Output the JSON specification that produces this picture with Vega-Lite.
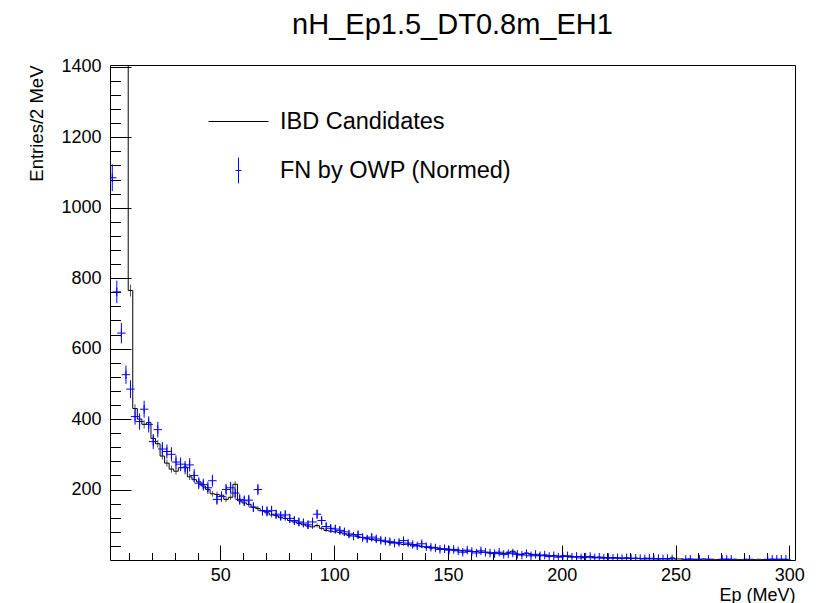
{
 "$schema": "https://vega.github.io/schema/vega-lite/v6.json",
 "width": 685, "height": 495,
 "autosize": {"type": "none"},
 "padding": {"left": 110, "top": 65, "right": 31, "bottom": 43},
 "background": "white",
 "config": {"font": "Liberation Sans", "view": {"stroke": "black", "strokeWidth": 1}},
 "title": {"text": "nH_Ep1.5_DT0.8m_EH1", "fontSize": 29, "fontWeight": "normal", "font": "Liberation Sans", "anchor": "middle", "offset": 18, "color": "black"},
 "data": {"values": [
  {"lo":1.5,"c":2.5,"ibd":3000,"ie":33,"fn":1085,"fe":38},
  {"lo":3.5,"c":4.5,"ibd":2400,"ie":29,"fn":761,"fe":32},
  {"lo":5.5,"c":6.5,"ibd":1900,"ie":26,"fn":644,"fe":29},
  {"lo":7.5,"c":8.5,"ibd":1500,"ie":23,"fn":526,"fe":26},
  {"lo":9.5,"c":10.5,"ibd":765,"ie":17,"fn":485,"fe":25},
  {"lo":11.5,"c":12.5,"ibd":430,"ie":12,"fn":407,"fe":23},
  {"lo":13.5,"c":14.5,"ibd":400,"ie":12,"fn":393,"fe":23},
  {"lo":15.5,"c":16.5,"ibd":385,"ie":12,"fn":428,"fe":24},
  {"lo":17.5,"c":18.5,"ibd":390,"ie":12,"fn":385,"fe":23},
  {"lo":19.5,"c":20.5,"ibd":345,"ie":11,"fn":336,"fe":21},
  {"lo":21.5,"c":22.5,"ibd":330,"ie":11,"fn":370,"fe":22},
  {"lo":23.5,"c":24.5,"ibd":295,"ie":10,"fn":315,"fe":20},
  {"lo":25.5,"c":26.5,"ibd":275,"ie":10,"fn":308,"fe":20},
  {"lo":27.5,"c":28.5,"ibd":258,"ie":10,"fn":300,"fe":20},
  {"lo":29.5,"c":30.5,"ibd":252,"ie":10,"fn":278,"fe":19},
  {"lo":31.5,"c":32.5,"ibd":262,"ie":10,"fn":272,"fe":19},
  {"lo":33.5,"c":34.5,"ibd":264,"ie":10,"fn":262,"fe":19},
  {"lo":35.5,"c":36.5,"ibd":236,"ie":9,"fn":270,"fe":19},
  {"lo":37.5,"c":38.5,"ibd":228,"ie":9,"fn":240,"fe":18},
  {"lo":39.5,"c":40.5,"ibd":222,"ie":9,"fn":218,"fe":17},
  {"lo":41.5,"c":42.5,"ibd":210,"ie":9,"fn":214,"fe":17},
  {"lo":43.5,"c":44.5,"ibd":200,"ie":8,"fn":205,"fe":17},
  {"lo":45.5,"c":46.5,"ibd":188,"ie":8,"fn":225,"fe":17},
  {"lo":47.5,"c":48.5,"ibd":186,"ie":8,"fn":172,"fe":15},
  {"lo":49.5,"c":50.5,"ibd":184,"ie":8,"fn":180,"fe":15},
  {"lo":51.5,"c":52.5,"ibd":172,"ie":8,"fn":200,"fe":16},
  {"lo":53.5,"c":54.5,"ibd":178,"ie":8,"fn":205,"fe":17},
  {"lo":55.5,"c":56.5,"ibd":215,"ie":9,"fn":190,"fe":16},
  {"lo":57.5,"c":58.5,"ibd":168,"ie":8,"fn":172,"fe":15},
  {"lo":59.5,"c":60.5,"ibd":162,"ie":8,"fn":168,"fe":15},
  {"lo":61.5,"c":62.5,"ibd":158,"ie":8,"fn":170,"fe":15},
  {"lo":63.5,"c":64.5,"ibd":150,"ie":7,"fn":150,"fe":14},
  {"lo":65.5,"c":66.5,"ibd":146,"ie":7,"fn":200,"fe":16},
  {"lo":67.5,"c":68.5,"ibd":140,"ie":7,"fn":140,"fe":14},
  {"lo":69.5,"c":70.5,"ibd":134,"ie":7,"fn":138,"fe":14},
  {"lo":71.5,"c":72.5,"ibd":128,"ie":7,"fn":140,"fe":14},
  {"lo":73.5,"c":74.5,"ibd":126,"ie":7,"fn":130,"fe":13},
  {"lo":75.5,"c":76.5,"ibd":120,"ie":7,"fn":125,"fe":13},
  {"lo":77.5,"c":78.5,"ibd":118,"ie":7,"fn":128,"fe":13},
  {"lo":79.5,"c":80.5,"ibd":112,"ie":6,"fn":118,"fe":13},
  {"lo":81.5,"c":82.5,"ibd":108,"ie":6,"fn":112,"fe":12},
  {"lo":83.5,"c":84.5,"ibd":104,"ie":6,"fn":108,"fe":12},
  {"lo":85.5,"c":86.5,"ibd":100,"ie":6,"fn":105,"fe":12},
  {"lo":87.5,"c":88.5,"ibd":96,"ie":6,"fn":100,"fe":12},
  {"lo":89.5,"c":90.5,"ibd":94,"ie":6,"fn":108,"fe":12},
  {"lo":91.5,"c":92.5,"ibd":98,"ie":6,"fn":130,"fe":13},
  {"lo":93.5,"c":94.5,"ibd":90,"ie":6,"fn":112,"fe":12},
  {"lo":95.5,"c":96.5,"ibd":84,"ie":5,"fn":95,"fe":11},
  {"lo":97.5,"c":98.5,"ibd":82,"ie":5,"fn":90,"fe":11},
  {"lo":99.5,"c":100.5,"ibd":80,"ie":5,"fn":88,"fe":11},
  {"lo":101.5,"c":102.5,"ibd":78,"ie":5,"fn":84,"fe":11},
  {"lo":103.5,"c":104.5,"ibd":74,"ie":5,"fn":80,"fe":10},
  {"lo":105.5,"c":106.5,"ibd":70,"ie":5,"fn":74,"fe":10},
  {"lo":107.5,"c":108.5,"ibd":72,"ie":5,"fn":68,"fe":10},
  {"lo":109.5,"c":110.5,"ibd":66,"ie":5,"fn":72,"fe":10},
  {"lo":111.5,"c":112.5,"ibd":64,"ie":5,"fn":64,"fe":9},
  {"lo":113.5,"c":114.5,"ibd":62,"ie":5,"fn":60,"fe":9},
  {"lo":115.5,"c":116.5,"ibd":58,"ie":5,"fn":65,"fe":9},
  {"lo":117.5,"c":118.5,"ibd":56,"ie":4,"fn":60,"fe":9},
  {"lo":119.5,"c":120.5,"ibd":55,"ie":4,"fn":56,"fe":9},
  {"lo":121.5,"c":122.5,"ibd":52,"ie":4,"fn":54,"fe":8},
  {"lo":123.5,"c":124.5,"ibd":50,"ie":4,"fn":52,"fe":8},
  {"lo":125.5,"c":126.5,"ibd":50,"ie":4,"fn":48,"fe":8},
  {"lo":127.5,"c":128.5,"ibd":46,"ie":4,"fn":50,"fe":8},
  {"lo":129.5,"c":130.5,"ibd":44,"ie":4,"fn":55,"fe":9},
  {"lo":131.5,"c":132.5,"ibd":45,"ie":4,"fn":48,"fe":8},
  {"lo":133.5,"c":134.5,"ibd":40,"ie":4,"fn":44,"fe":8},
  {"lo":135.5,"c":136.5,"ibd":42,"ie":4,"fn":40,"fe":7},
  {"lo":137.5,"c":138.5,"ibd":38,"ie":4,"fn":46,"fe":8},
  {"lo":139.5,"c":140.5,"ibd":36,"ie":4,"fn":38,"fe":7},
  {"lo":141.5,"c":142.5,"ibd":34,"ie":4,"fn":36,"fe":7},
  {"lo":143.5,"c":144.5,"ibd":35,"ie":4,"fn":34,"fe":7},
  {"lo":145.5,"c":146.5,"ibd":32,"ie":3,"fn":30,"fe":6},
  {"lo":147.5,"c":148.5,"ibd":30,"ie":3,"fn":32,"fe":7},
  {"lo":149.5,"c":150.5,"ibd":30,"ie":3,"fn":28,"fe":6},
  {"lo":151.5,"c":152.5,"ibd":28,"ie":3,"fn":30,"fe":6},
  {"lo":153.5,"c":154.5,"ibd":28,"ie":3,"fn":26,"fe":6},
  {"lo":155.5,"c":156.5,"ibd":26,"ie":3,"fn":22,"fe":5},
  {"lo":157.5,"c":158.5,"ibd":25,"ie":3,"fn":28,"fe":6},
  {"lo":159.5,"c":160.5,"ibd":24,"ie":3,"fn":24,"fe":6},
  {"lo":161.5,"c":162.5,"ibd":24,"ie":3,"fn":20,"fe":5},
  {"lo":163.5,"c":164.5,"ibd":22,"ie":3,"fn":26,"fe":6},
  {"lo":165.5,"c":166.5,"ibd":22,"ie":3,"fn":22,"fe":5},
  {"lo":167.5,"c":168.5,"ibd":20,"ie":3,"fn":20,"fe":5},
  {"lo":169.5,"c":170.5,"ibd":21,"ie":3,"fn":18,"fe":5},
  {"lo":171.5,"c":172.5,"ibd":19,"ie":3,"fn":22,"fe":5},
  {"lo":173.5,"c":174.5,"ibd":18,"ie":3,"fn":16,"fe":5},
  {"lo":175.5,"c":176.5,"ibd":22,"ie":3,"fn":18,"fe":5},
  {"lo":177.5,"c":178.5,"ibd":25,"ie":3,"fn":20,"fe":5},
  {"lo":179.5,"c":180.5,"ibd":17,"ie":2,"fn":16,"fe":5},
  {"lo":181.5,"c":182.5,"ibd":16,"ie":2,"fn":14,"fe":4},
  {"lo":183.5,"c":184.5,"ibd":20,"ie":3,"fn":18,"fe":5},
  {"lo":185.5,"c":186.5,"ibd":16,"ie":2,"fn":12,"fe":4},
  {"lo":187.5,"c":188.5,"ibd":14,"ie":2,"fn":16,"fe":5},
  {"lo":189.5,"c":190.5,"ibd":13,"ie":2,"fn":12,"fe":4},
  {"lo":191.5,"c":192.5,"ibd":14,"ie":2,"fn":14,"fe":4},
  {"lo":193.5,"c":194.5,"ibd":12,"ie":2,"fn":10,"fe":4},
  {"lo":195.5,"c":196.5,"ibd":12,"ie":2,"fn":12,"fe":4},
  {"lo":197.5,"c":198.5,"ibd":11,"ie":2,"fn":8,"fe":3},
  {"lo":199.5,"c":200.5,"ibd":12,"ie":2,"fn":10,"fe":4},
  {"lo":201.5,"c":202.5,"ibd":10,"ie":2,"fn":12,"fe":4},
  {"lo":203.5,"c":204.5,"ibd":10,"ie":2,"fn":8,"fe":3},
  {"lo":205.5,"c":206.5,"ibd":9,"ie":2,"fn":10,"fe":4},
  {"lo":207.5,"c":208.5,"ibd":10,"ie":2,"fn":6,"fe":3},
  {"lo":209.5,"c":210.5,"ibd":8,"ie":2,"fn":8,"fe":3},
  {"lo":211.5,"c":212.5,"ibd":9,"ie":2,"fn":10,"fe":4},
  {"lo":213.5,"c":214.5,"ibd":7,"ie":2,"fn":6,"fe":3},
  {"lo":215.5,"c":216.5,"ibd":8,"ie":2,"fn":8,"fe":3},
  {"lo":217.5,"c":218.5,"ibd":7,"ie":2,"fn":5,"fe":3},
  {"lo":219.5,"c":220.5,"ibd":6,"ie":1,"fn":7,"fe":3},
  {"lo":221.5,"c":222.5,"ibd":7,"ie":2,"fn":5,"fe":3},
  {"lo":223.5,"c":224.5,"ibd":6,"ie":1,"fn":6,"fe":3},
  {"lo":225.5,"c":226.5,"ibd":5,"ie":1,"fn":4,"fe":2},
  {"lo":227.5,"c":228.5,"ibd":6,"ie":1,"fn":6,"fe":3},
  {"lo":229.5,"c":230.5,"ibd":5,"ie":1,"fn":4,"fe":2},
  {"lo":231.5,"c":232.5,"ibd":5,"ie":1,"fn":5,"fe":3},
  {"lo":233.5,"c":234.5,"ibd":4,"ie":1,"fn":4,"fe":2},
  {"lo":235.5,"c":236.5,"ibd":5,"ie":1,"fn":3,"fe":2},
  {"lo":237.5,"c":238.5,"ibd":4,"ie":1,"fn":5,"fe":3},
  {"lo":239.5,"c":240.5,"ibd":4,"ie":1,"fn":3,"fe":2},
  {"lo":241.5,"c":242.5,"ibd":3,"ie":1,"fn":4,"fe":2},
  {"lo":243.5,"c":244.5,"ibd":4,"ie":1,"fn":3,"fe":2},
  {"lo":245.5,"c":246.5,"ibd":3,"ie":1,"fn":4,"fe":2},
  {"lo":247.5,"c":248.5,"ibd":6,"ie":1,"fn":3,"fe":2},
  {"lo":249.5,"c":250.5,"ibd":3,"ie":1,"fn":null,"fe":null},
  {"lo":251.5,"c":252.5,"ibd":3,"ie":1,"fn":null,"fe":null},
  {"lo":253.5,"c":254.5,"ibd":2,"ie":1,"fn":2,"fe":2},
  {"lo":255.5,"c":256.5,"ibd":3,"ie":1,"fn":2,"fe":2},
  {"lo":257.5,"c":258.5,"ibd":2,"ie":1,"fn":null,"fe":null},
  {"lo":259.5,"c":260.5,"ibd":2,"ie":1,"fn":2,"fe":2},
  {"lo":261.5,"c":262.5,"ibd":3,"ie":1,"fn":null,"fe":null},
  {"lo":263.5,"c":264.5,"ibd":2,"ie":1,"fn":2,"fe":2},
  {"lo":265.5,"c":266.5,"ibd":2,"ie":1,"fn":null,"fe":null},
  {"lo":267.5,"c":268.5,"ibd":1,"ie":1,"fn":null,"fe":null},
  {"lo":269.5,"c":270.5,"ibd":2,"ie":1,"fn":2,"fe":2},
  {"lo":271.5,"c":272.5,"ibd":2,"ie":1,"fn":2,"fe":2},
  {"lo":273.5,"c":274.5,"ibd":1,"ie":1,"fn":2,"fe":2},
  {"lo":275.5,"c":276.5,"ibd":2,"ie":1,"fn":null,"fe":null},
  {"lo":277.5,"c":278.5,"ibd":1,"ie":1,"fn":null,"fe":null},
  {"lo":279.5,"c":280.5,"ibd":2,"ie":1,"fn":null,"fe":null},
  {"lo":281.5,"c":282.5,"ibd":1,"ie":1,"fn":2,"fe":2},
  {"lo":283.5,"c":284.5,"ibd":1,"ie":1,"fn":null,"fe":null},
  {"lo":285.5,"c":286.5,"ibd":2,"ie":1,"fn":null,"fe":null},
  {"lo":287.5,"c":288.5,"ibd":1,"ie":1,"fn":null,"fe":null},
  {"lo":289.5,"c":290.5,"ibd":1,"ie":1,"fn":2,"fe":2},
  {"lo":291.5,"c":292.5,"ibd":2,"ie":1,"fn":2,"fe":2},
  {"lo":293.5,"c":294.5,"ibd":1,"ie":1,"fn":2,"fe":2},
  {"lo":295.5,"c":296.5,"ibd":1,"ie":1,"fn":2,"fe":2},
  {"lo":297.5,"c":298.5,"ibd":1,"ie":1,"fn":2,"fe":2},
  {"lo":299.5,"c":300.5,"ibd":1,"ie":1,"fn":null,"fe":null}
 ]},
 "layer": [
  {
   "mark": {"type": "errorbar", "color": "#555555", "thickness": 1, "clip": true},
   "encoding": {
    "x": {"field": "c", "type": "quantitative", "scale": {"domain": [1.5, 302.5], "nice": false, "zero": false}, "axis": null},
    "y": {"field": "ibd", "type": "quantitative", "scale": {"domain": [0, 1405], "nice": false}, "axis": null},
    "yError": {"field": "ie"}
   }
  },
  {
   "mark": {"type": "line", "interpolate": "step-after", "strokeWidth": 1, "clip": true},
   "encoding": {
    "x": {"field": "lo", "type": "quantitative", "axis": {"values": [50, 100, 150, 200, 250, 300], "orient": "bottom", "tickSize": -15, "tickColor": "black", "domain": false, "grid": false, "labelFontSize": 18, "labelColor": "black", "labelPadding": 21, "labelFlush": false, "labelOverlap": false, "labelBound": false, "format": "d", "title": "Ep (MeV)", "titleFontSize": 18, "titleFontWeight": "normal", "titleColor": "black", "titleAlign": "right", "titleAnchor": "end", "titleX": 685, "titleY": 35, "titleBaseline": "middle"}},
    "y": {"field": "ibd", "type": "quantitative", "axis": {"values": [200, 400, 600, 800, 1000, 1200, 1400], "orient": "left", "tickSize": -21, "tickColor": "black", "domain": false, "grid": false, "labelFontSize": 18, "labelColor": "black", "labelPadding": 30, "labelFlush": false, "labelOverlap": false, "labelBound": false, "format": "d", "title": "Entries/2 MeV", "titleFontSize": 18.5, "titleFontWeight": "normal", "titleColor": "black", "titleAngle": -90, "titleAlign": "right", "titleBaseline": "middle", "titleX": -74, "titleY": 0}},
    "color": {"datum": "IBD Candidates", "type": "nominal", "scale": {"range": ["black"]}, "legend": {"orient": "none", "legendX": 98, "legendY": 26, "title": null, "symbolType": "stroke", "symbolSize": 3600, "symbolStrokeWidth": 1, "labelFontSize": 23.5, "labelOffset": 11, "labelLimit": 0, "labelColor": "black", "padding": 0}}
   }
  },
  {
   "mark": {"type": "errorbar", "color": "#0000ff", "thickness": 1, "clip": true},
   "encoding": {
    "x": {"field": "c", "type": "quantitative", "axis": null},
    "y": {"field": "fn", "type": "quantitative", "axis": null},
    "yError": {"field": "fe"}
   }
  },
  {
   "mark": {"type": "point", "shape": "M-1,0H1M0,-1V1", "size": 72, "filled": false, "strokeWidth": 1, "opacity": 1, "clip": true},
   "encoding": {
    "x": {"field": "c", "type": "quantitative", "axis": {"values": [10,20,30,40,60,70,80,90,110,120,130,140,160,170,180,190,210,220,230,240,260,270,280,290], "orient": "bottom", "tickSize": -7.5, "tickColor": "black", "labels": false, "domain": false, "grid": false, "title": null}},
    "y": {"field": "fn", "type": "quantitative", "axis": {"values": [40,80,120,160,240,280,320,360,440,480,520,560,640,680,720,760,840,880,920,960,1040,1080,1120,1160,1240,1280,1320,1360], "orient": "left", "tickSize": -10.5, "tickColor": "black", "labels": false, "domain": false, "grid": false, "title": null}},
    "stroke": {"datum": "FN by OWP (Normed)", "type": "nominal", "scale": {"range": ["#0000ff"]}, "legend": {"orient": "none", "legendX": 98, "legendY": 75, "title": null, "symbolType": "M-0.1,0H0.1M0,-0.43V0.43", "symbolSize": 3600, "symbolStrokeWidth": 1, "labelFontSize": 23.5, "labelOffset": 11, "labelLimit": 0, "labelColor": "black", "padding": 0}}
   }
  }
 ],
 "resolve": {"axis": {"x": "independent", "y": "independent"}}
}
